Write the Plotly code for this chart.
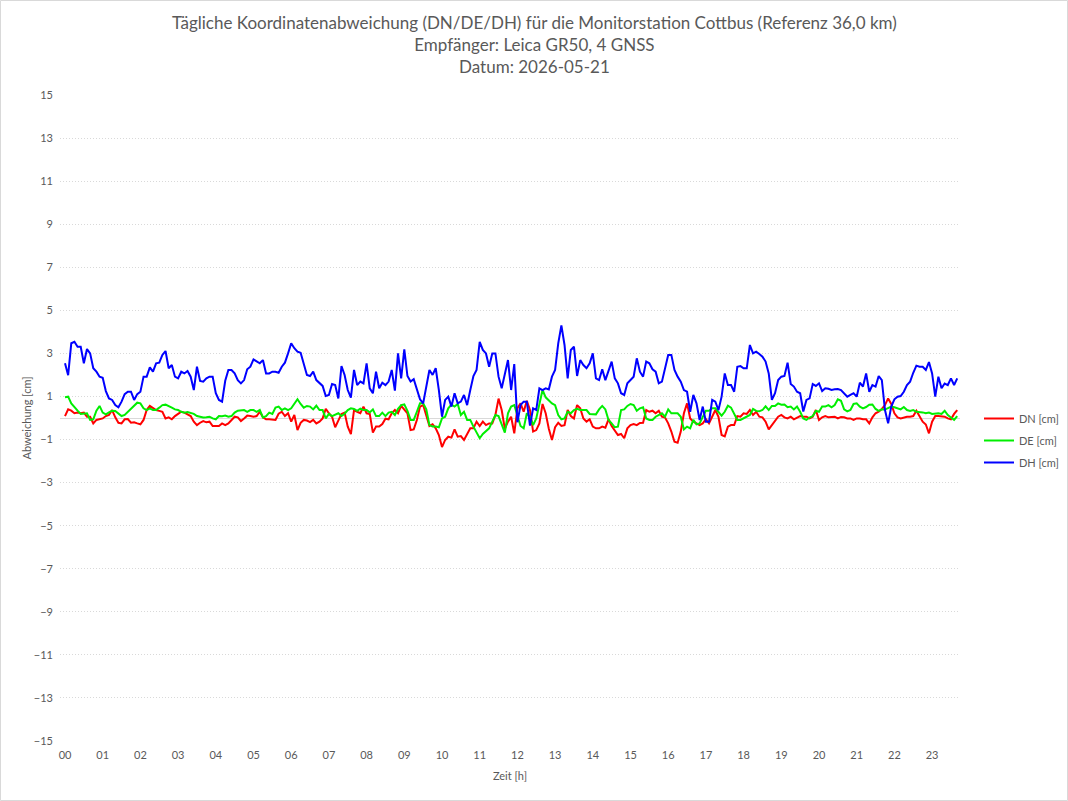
import plotly.graph_objects as go

# time in minutes since 00:00 (5-minute samples, 00:00 .. 23:40)
minutes = [i * 5 for i in range(285)]
hour_labels = [f"{h:02d}" for h in range(24)]
hour_ticks = list(range(24))
y_ticks = list(range(-15, 16, 2))

# one row per hour (12 samples)
dn = [
    0.09, 0.4, 0.34, 0.22, 0.25, 0.22, 0.25, 0.06, 0.06, -0.25, -0.09, -0.05,
    -0.02, 0.09, 0.14, 0.37, 0.03, -0.22, -0.25, -0.06, -0.05, -0.22, -0.2, -0.25,
    -0.29, -0.09, 0.37, 0.56, 0.45, 0.37, 0.33, 0.29, -0.02, 0.03, -0.06, 0.09,
    0.19, 0.29, 0.25, 0.17, 0.09, -0.17, -0.33, -0.22, -0.14, -0.2, -0.17, -0.37,
    -0.36, -0.37, -0.25, -0.33, -0.25, -0.09, 0.06, 0.03, -0.14, -0.02, 0.11, 0.09,
    0.06, 0.09, 0.29, 0.03, -0.06, -0.06, -0.09, -0.09, 0.2, 0.29, 0.09, 0.22,
    -0.17, 0.14, -0.56, -0.22, -0.09, -0.12, -0.19, -0.09, -0.25, -0.17, -0.02, 0.43,
    0.22, 0.06, -0.43, -0.09, 0.19, 0.25, -0.4, -0.75, 0.37, 0.29, 0.22, 0.53,
    0.22, 0.19, -0.68, -0.4, -0.4, -0.28, -0.03, -0.06, 0.22, 0.37, 0.22, 0.56,
    0.37, 0.22, -0.56, -0.53, -0.09, 0.53, 0.6, 0.09, -0.37, -0.29, -0.48, -0.79,
    -1.35, -1.02, -0.87, -0.91, -0.53, -0.87, -0.84, -1.02, -0.74, -0.48, -0.48, -0.17,
    -0.37, -0.17, -0.33, -0.25, -0.25, 0.14, 0.9, 0.37, -0.5, -0.17, 0.06, -0.71,
    0.45, 0.68, 0.29, 0.8, 0.37, -0.63, -0.56, -0.25, 0.65, 0.22, -0.5, -1.02,
    -0.43, -0.22, -0.37, -0.33, 0.37, 0.09, -0.02, 0.6, 0.45, -0.02, -0.17, -0.06,
    -0.4, -0.48, -0.48, -0.4, -0.45, -0.06, -0.37, -0.6, -0.79, -0.74, -0.94, -0.48,
    -0.33, -0.28, -0.33, -0.23, -0.22, 0.37, 0.29, 0.34, 0.22, 0.34, 0.06, 0.02,
    -0.25, -0.63, -1.1, -1.15, -0.63, 0.22, 0.68, -0.02, -0.17, -0.25, -0.33, -0.25,
    -0.05, -0.25, 0.09, 0.37, 0.06, -0.79, -0.85, -0.4, -0.33, -0.33, 0.09, 0.06,
    0.22, 0.19, 0.37, 0.14, 0.29, 0.06, 0.03, -0.17, -0.53, -0.33, -0.14, 0.06,
    0.14, 0.03, -0.02, 0.06, -0.06, 0.02, 0.09, 0.06, 0.06, -0.02, 0.06, 0.37,
    -0.09, 0.03, 0.09, 0.03, 0.03, 0.06, -0.02, 0.05, 0.03, -0.02, -0.02, -0.09,
    -0.02, -0.02, -0.06, -0.06, -0.25, 0.03, 0.22, 0.29, 0.42, 0.6, 0.91, 0.65,
    0.22, 0.03, -0.02, 0.03, 0.06, 0.06, 0.09, 0.34, 0.06, -0.17, -0.3, -0.71,
    -0.17, 0.09, 0.09, 0.09, 0.06, -0.02, -0.06, 0.19, 0.37,
]

de = [
    0.96, 0.99, 0.68, 0.48, 0.34, 0.19, 0.22, 0.22, -0.09, -0.06, 0.34, 0.56,
    0.25, 0.17, 0.26, 0.34, 0.33, 0.19, 0.09, 0.14, 0.29, 0.42, 0.57, 0.71,
    0.68, 0.45, 0.37, 0.45, 0.37, 0.37, 0.48, 0.6, 0.62, 0.56, 0.48, 0.4,
    0.37, 0.29, 0.25, 0.28, 0.22, 0.19, 0.09, 0.06, 0.02, 0.03, 0.06, -0.02,
    -0.06, 0.09, 0.08, 0.11, 0.06, 0.09, 0.25, 0.34, 0.34, 0.37, 0.29, 0.37,
    0.37, 0.29, 0.37, 0.03, 0.09, 0.25, 0.19, 0.48, 0.53, 0.37, 0.45, 0.37,
    0.45, 0.68, 0.87, 0.65, 0.48, 0.56, 0.53, 0.4, 0.57, 0.37, 0.37, -0.02,
    0.19, 0.09, 0.14, 0.22, 0.09, 0.2, 0.37, 0.45, 0.42, 0.33, 0.43, 0.37,
    0.37, 0.26, 0.4, 0.09, 0.09, 0.25, 0.09, 0.25, 0.29, 0.14, 0.43, 0.6,
    0.63, 0.33, -0.09, -0.09, 0.29, 0.68, 0.68, 0.4, -0.33, -0.4, -0.4, -0.43,
    -0.02, 0.06, 0.45, 0.62, 0.53, 0.65, 0.14, 0.29, -0.09, -0.09, -0.4, -0.71,
    -0.94, -0.74, -0.59, -0.48, -0.17, 0.14, 0.09, -0.33, -0.68, 0.22, 0.53, 0.6,
    0.06, -0.37, -0.48, 0.22, 0.06, -0.33, -0.02, 0.68, 1.3, 0.96, 0.8, 0.68,
    0.6, 0.14, -0.06, -0.02, 0.29, 0.22, 0.37, 0.43, 0.37, 0.37, 0.37, 0.19,
    0.19, 0.17, 0.4, 0.56, 0.4, -0.09, -0.25, -0.43, -0.4, 0.37, 0.4, 0.56,
    0.65, 0.6, 0.34, 0.45, 0.5, -0.02, -0.09, -0.09, 0.06, 0.14, 0.22, 0.06,
    0.4, 0.22, 0.22, 0.22, 0.06, -0.53, -0.4, -0.48, -0.09, -0.29, -0.25, 0.02,
    0.34, 0.34, 0.45, 0.45, 0.29, 0.11, 0.29, 0.57, 0.48, 0.22, -0.09, -0.09,
    -0.02, 0.06, 0.14, 0.42, 0.33, 0.31, 0.37, 0.54, 0.37, 0.56, 0.56, 0.68,
    0.62, 0.63, 0.5, 0.53, 0.4, 0.53, 0.29, -0.02, -0.09, 0.02, 0.09, 0.33,
    0.29, 0.53, 0.53, 0.6, 0.5, 0.6, 0.87, 0.8, 0.4, 0.31, 0.37, 0.65,
    0.68, 0.53, 0.45, 0.51, 0.62, 0.63, 0.42, 0.33, 0.4, 0.39, 0.45, 0.53,
    0.5, 0.45, 0.4, 0.51, 0.37, 0.33, 0.37, 0.29, 0.29, 0.26, 0.22, 0.25,
    0.19, 0.22, 0.22, 0.19, 0.34, 0.14, 0.03, -0.09, 0.09,
]

dh = [
    2.54, 1.99, 3.47, 3.54, 3.31, 3.31, 2.54, 3.2, 3.0, 2.31, 2.15, 1.92,
    1.87, 1.25, 0.91, 0.84, 0.6, 0.5, 0.76, 1.11, 1.22, 1.22, 0.84, 1.11,
    1.22, 1.92, 1.92, 2.35, 2.15, 2.54, 2.57, 2.93, 3.11, 2.31, 2.46, 1.92,
    1.84, 2.15, 2.07, 2.18, 1.92, 1.3, 2.38, 1.72, 1.69, 1.84, 1.92, 1.92,
    1.15, 0.84, 0.76, 1.73, 2.23, 2.23, 2.07, 1.76, 1.61, 1.76, 2.26, 2.38,
    2.72, 2.62, 2.54, 2.69, 2.07, 2.07, 2.15, 2.15, 2.1, 2.38, 2.57, 3.0,
    3.47, 3.24, 3.08, 3.03, 2.54, 2.0, 1.95, 2.15, 1.76, 1.61, 1.49, 1.02,
    1.07, 1.58, 1.53, 0.91, 2.41, 2.0, 1.3, 0.95, 2.23, 1.53, 1.69, 1.61,
    2.54, 1.38, 1.15, 2.15, 1.38, 1.64, 1.53, 1.69, 2.23, 1.27, 3.0, 1.84,
    3.19, 1.95, 1.69, 1.8, 1.38, 0.87, 0.68, 1.53, 2.23, 2.0, 2.31, 1.3,
    0.06, 0.84, 0.99, 0.53, 1.15, 0.68, 0.76, 1.07, 0.6, 1.3, 1.95, 2.23,
    3.54, 3.16, 3.0, 2.38, 3.0, 3.0, 1.92, 1.38, 2.0, 2.69, 1.3, 2.5,
    -0.2, 0.6, 0.76, 0.76, -0.35, 0.45, 0.37, 1.38, 1.3, 1.38, 1.33, 1.92,
    2.23, 3.47, 4.3, 3.39, 1.84, 3.16, 3.31, 1.95, 2.69, 2.46, 2.31, 2.54,
    3.0, 1.84, 1.76, 2.26, 1.76, 2.15, 2.62, 1.84, 1.61, 1.15, 1.07, 1.61,
    1.76, 1.92, 2.77, 2.15, 1.92, 2.62, 2.54, 2.26, 2.15, 1.61, 1.69, 2.31,
    2.93, 2.93, 2.23, 1.92, 1.69, 1.3, 1.22, 0.29, 1.07, 0.68, -0.09, 0.53,
    -0.17, -0.17, 0.84, 0.76, 0.37, 0.99, 2.07, 1.53, 1.53, 1.22, 2.38, 2.41,
    2.31, 2.31, 3.39, 3.0, 3.08, 2.97, 2.85, 2.62, 2.07, 0.84, 1.15, 1.76,
    1.92, 1.95, 2.57, 1.58, 1.46, 1.22, 1.15, 0.3, 0.84, 0.91, 1.58, 1.49,
    1.61, 1.25, 1.38, 1.36, 1.3, 1.33, 1.35, 1.3, 1.15, 0.99, 1.07, 1.15,
    0.99, 1.64, 1.46, 2.07, 1.22, 1.53, 1.46, 1.95, 1.76, 0.37, -0.25, 0.53,
    0.87, 0.99, 1.02, 1.22, 1.53, 1.69, 2.1, 2.43, 2.38, 2.38, 2.23, 2.6,
    2.07, 0.99, 1.92, 1.38, 1.6, 1.53, 1.84, 1.53, 1.84,
]

series = [("DN [cm]", dn, "#ff0000"), ("DE [cm]", de, "#00ee00"), ("DH [cm]", dh, "#0000ff")]

title_lines = ["Tägliche Koordinatenabweichung (DN/DE/DH) für die Monitorstation Cottbus (Referenz 36,0 km)",
               "Empfänger: Leica GR50, 4 GNSS",
               "Datum: 2026-05-21"]

hours = [m / 60 for m in minutes]

fig = go.Figure()
for name, vals, col in series:
    fig.add_trace(go.Scatter(x=hours, y=vals, mode="lines", name=name, legendgroup=name,
                             line=dict(color=col, width=2)))

grey = "#595959"
FONT = "Lato, Open Sans, sans-serif"
L, R, T, B = 60, 108, 95, 60
W, H = 1068, 801
pw, ph = W - L - R, H - T - B

fig.update_layout(
    width=W, height=H,
    margin=dict(l=L, r=R, t=T, b=B, autoexpand=False),
    paper_bgcolor="white", plot_bgcolor="white",
    font=dict(family=FONT, color=grey, size=11),
    xaxis=dict(
        range=[-5 / 37.7, 895 / 37.7],
        tickmode="array", tickvals=hour_ticks, ticktext=hour_labels,
        showgrid=False, zeroline=False, showline=False, ticks="",
        ticklabelstandoff=6,
        tickfont=dict(size=11, color=grey),
        title=dict(text="Zeit [h]", font=dict(size=11, color=grey), standoff=12),
    ),
    yaxis=dict(
        range=[-15, 15],
        tickmode="array", tickvals=y_ticks,
        showgrid=True, gridcolor="#d9d9d9", griddash="1px,2px", gridwidth=1,
        zeroline=True, zerolinecolor="#d9d9d9", zerolinewidth=1,
        showline=False, ticks="",
        ticklabelstandoff=6,
        tickfont=dict(size=11, color=grey),
        title=dict(text="Abweichung [cm]", font=dict(size=11, color=grey), standoff=0),
    ),
    legend=dict(
        x=(979 - L) / pw, xanchor="left",
        y=(H - B - 404) / ph, yanchor="top",
        bgcolor="rgba(0,0,0,0)",
        font=dict(size=11, color=grey),
        tracegroupgap=3, itemwidth=30,
    ),
    annotations=[dict(text="<br>".join(title_lines), xref="paper", yref="paper",
                      x=(W / 2 - L) / pw, xanchor="center",
                      y=(H - B - 10) / ph, yanchor="top",
                      showarrow=False, align="center",
                      font=dict(size=17, color=grey, family=FONT))],
    shapes=[dict(type="rect", xref="paper", yref="paper",
                 x0=-(L - 0.5) / pw, x1=(W - L - 0.5) / pw,
                 y0=-(B - 0.5) / ph, y1=(H - B - 0.5) / ph,
                 line=dict(color="#d9d9d9", width=1), fillcolor="rgba(0,0,0,0)",
                 layer="below")],
)

fig.write_html("out.html")
